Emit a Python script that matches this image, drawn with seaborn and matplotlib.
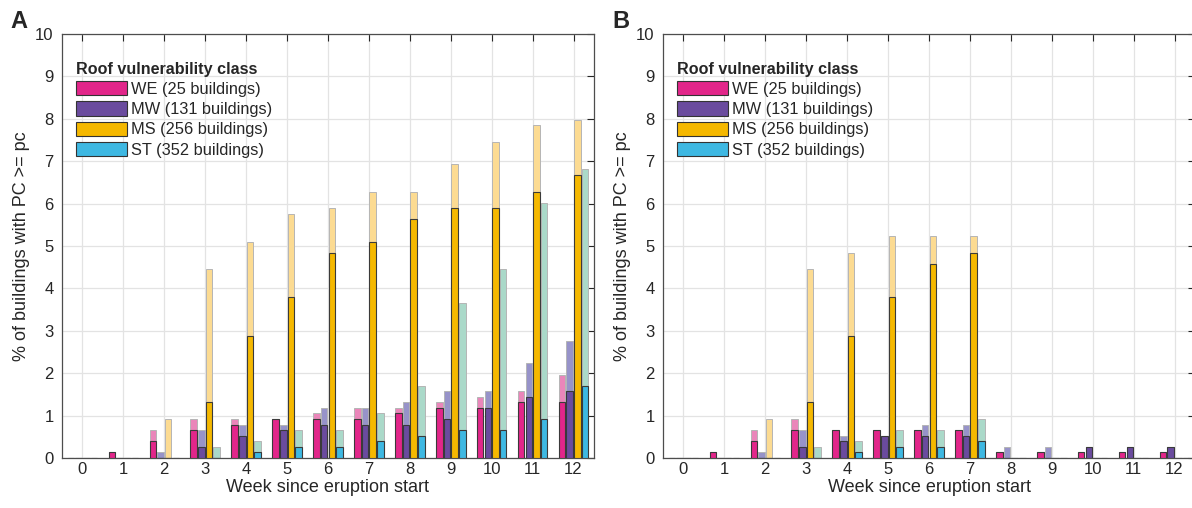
import matplotlib
matplotlib.use("Agg")
import matplotlib.pyplot as plt
from matplotlib.patches import Patch
import numpy as np
import pandas as pd
import seaborn as sns

# data (percent of buildings with PC >= pc)
weeks = list(range(13))
classes = ["WE (25 buildings)", "MW (131 buildings)", "MS (256 buildings)", "ST (352 buildings)"]

# panel A
a_we_low = [0, .13, .39, .65, .79, .92, .92, .92, 1.05, 1.18, 1.18, 1.31, 1.31]
a_we_high = [0, .13, .65, .92, .92, .92, 1.05, 1.18, 1.18, 1.31, 1.44, 1.57, 1.96]
a_mw_low = [0, 0, 0, .26, .52, .65, .79, .79, .79, .92, 1.18, 1.44, 1.57]
a_mw_high = [0, 0, .13, .65, .79, .79, 1.18, 1.18, 1.31, 1.57, 1.57, 2.23, 2.75]
a_ms_low = [0, 0, 0, 1.31, 2.88, 3.80, 4.84, 5.10, 5.63, 5.89, 5.89, 6.28, 6.68]
a_ms_high = [0, 0, .92, 4.45, 5.10, 5.76, 5.89, 6.28, 6.28, 6.94, 7.46, 7.85, 7.98]
a_st_low = [0, 0, 0, 0, .13, .26, .26, .39, .52, .65, .65, .92, 1.70]
a_st_high = [0, 0, 0, .26, .39, .65, .65, 1.05, 1.70, 3.66, 4.45, 6.02, 6.81]

# panel B
b_we_low = [0, .13, .39, .65, .65, .65, .65, .65, .13, .13, .13, .13, .13]
b_we_high = [0, .13, .65, .92, .65, .65, .65, .65, .13, .13, .13, .13, .13]
b_mw_low = [0, 0, 0, .26, .39, .52, .52, .52, 0, 0, .26, .26, .26]
b_mw_high = [0, 0, .13, .65, .52, .52, .79, .79, .26, .26, .26, .26, .26]
b_ms_low = [0, 0, 0, 1.31, 2.88, 3.80, 4.58, 4.84, 0, 0, 0, 0, 0]
b_ms_high = [0, 0, .92, 4.45, 4.84, 5.24, 5.24, 5.24, 0, 0, 0, 0, 0]
b_st_low = [0, 0, 0, 0, .13, .26, .26, .39, 0, 0, 0, 0, 0]
b_st_high = [0, 0, 0, .26, .39, .65, .65, .92, 0, 0, 0, 0, 0]

solid_cols = ["#E2268A", "#6A4B9E", "#F5B800", "#3EB8E2"]
light_cols = ["#EA86BA", "#9793C9", "#FCDB92", "#AAD9C9"]


def to_long(series):
    rows = []
    for cls, vals in zip(classes, series):
        for w, v in zip(weeks, vals):
            rows.append({"week": w, "cls": cls, "pct": v})
    return pd.DataFrame(rows)


sns.set_theme(style="white")
plt.rcParams["font.family"] = ["Liberation Sans", "DejaVu Sans"]
plt.rcParams["axes.edgecolor"] = "#4d4d4d"
plt.rcParams["text.color"] = "#262626"
plt.rcParams["axes.labelcolor"] = "#262626"
plt.rcParams["xtick.color"] = "#262626"
plt.rcParams["ytick.color"] = "#262626"

fig = plt.figure(figsize=(11.92, 5.08), dpi=100)
axA = fig.add_axes([62 / 1192, 50 / 508, 532 / 1192, 424 / 508])
axB = fig.add_axes([663 / 1192, 50 / 508, 532 / 1192, 424 / 508])


def panel(ax, low, high):
    d_hi = to_long(high)
    d_lo = to_long(low)
    sns.barplot(data=d_hi, x="week", y="pct", hue="cls", hue_order=classes,
                palette=light_cols, saturation=1, width=0.75, gap=0.15, errorbar=None,
                edgecolor="#b5b5b5", linewidth=0.7, legend=False, ax=ax, zorder=2)
    sns.barplot(data=d_lo, x="week", y="pct", hue="cls", hue_order=classes,
                palette=solid_cols, saturation=1, width=0.75, gap=0.15, errorbar=None,
                edgecolor="#3a3a3a", linewidth=0.8, legend=False, ax=ax, zorder=3)
    ax.set_xlim(-0.5, 12.5)
    ax.set_ylim(0, 10)
    ax.set_yticks(range(11))
    ax.grid(True, color="#e3e3e3", linewidth=0.9, zorder=0)
    ax.set_axisbelow(True)
    ax.tick_params(direction="in", top=True, right=True, length=5, width=0.8,
                   labelsize=12)
    ax.tick_params(axis="y", pad=6)
    ax.tick_params(axis="x", pad=3)
    ax.set_xlabel("Week since eruption start", fontsize=13, labelpad=1)
    ax.set_ylabel("% of buildings with PC >= pc", fontsize=13, labelpad=4)
    for s in ax.spines.values():
        s.set_linewidth(0.9)
        s.set_visible(True)

    handles = [Patch(facecolor=c, edgecolor="#333333", linewidth=0.8) for c in solid_cols]
    leg = ax.legend(handles, classes, title="Roof vulnerability class",
                    loc="upper left", bbox_to_anchor=(0.026, 0.935), frameon=False,
                    fontsize=11.8, title_fontproperties={"weight": "bold", "size": 11.6},
                    handlelength=3.1, handleheight=0.95, handletextpad=0.25,
                    labelspacing=0.28, borderpad=0, borderaxespad=0)
    leg._legend_box.align = "left"


panel(axA, [a_we_low, a_mw_low, a_ms_low, a_st_low],
      [a_we_high, a_mw_high, a_ms_high, a_st_high])
panel(axB, [b_we_low, b_mw_low, b_ms_low, b_st_low],
      [b_we_high, b_mw_high, b_ms_high, b_st_high])

fig.text(10 / 1192, 1 - 22 / 508, "A", fontsize=17, fontweight="bold", va="center")
fig.text(612 / 1192, 1 - 22 / 508, "B", fontsize=17, fontweight="bold", va="center")

fig.savefig("out.png", dpi=100)
